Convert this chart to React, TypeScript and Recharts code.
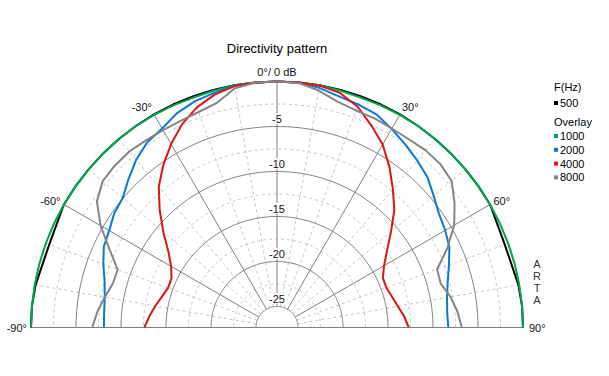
import { PolarAngleAxis, PolarGrid, PolarRadiusAxis, Radar, RadarChart } from "recharts";

// angle from front axis, degrees
const ANGLES = [
  -90, -85, -80, -75, -70, -65, -60, -55, -50, -45, -40, -35, -30, -25, -20, -15, -10, -5, 0,
  5, 10, 15, 20, 25, 30, 35, 40, 45, 50, 55, 60, 65, 70, 75, 80, 85, 90,
];

// level in dB per frequency
const F500 = [
  0, 0, -0.1, -0.35, -0.4, -0.3, 0, 0, 0, 0, 0, 0, 0, 0, 0, 0, 0, 0, 0,
  0, 0, 0, 0, 0, 0, 0, 0, 0, 0, 0, 0, -0.3, -0.4, -0.35, -0.1, 0, 0,
];
const F1000 = [
  0, 0, 0, 0, 0, 0, 0, 0, 0, 0, 0, 0, -0.05, -0.1, -0.15, -0.1, 0, 0, 0,
  0, 0, -0.1, -0.15, -0.1, -0.05, 0, 0, 0, 0, 0, 0, 0, 0, 0, 0, 0, 0,
];
const F2000 = [
  -8.1, -8.05, -7.9, -7.5, -6.8, -6.1, -5.8, -5.25, -4.95, -4.0, -3.0, -2.2, -1.8, -1.05, -0.6, -0.35, -0.05, 0, 0,
  0, -0.3, -0.75, -0.95, -1.2, -1.85, -2.5, -3.1, -3.7, -4.6, -5.35, -5.75, -6.2, -7.0, -7.7, -8.15, -8.35, -8.3,
];
const F4000 = [
  -12.6, -13.1, -13.6, -14.1, -14.45, -14.4, -13.75, -12.6, -10.85, -8.9, -6.9, -5.3, -3.8, -2.4, -1.3, -0.55, -0.1, 0, 0,
  0, -0.05, -0.35, -1.2, -2.55, -3.85, -5.55, -7.3, -8.9, -10.8, -12.4, -13.6, -14.35, -14.4, -14.1, -13.7, -13.15, -12.7,
];
const F8000 = [
  -6.8, -7.3, -7.9, -8.45, -8.5, -6.8, -4.7, -2.9, -2.05, -1.87, -1.8, -1.95, -2.0, -2.0, -1.85, -1.5, -0.35, 0, 0,
  -0.05, -0.6, -1.35, -1.67, -1.7, -1.8, -1.8, -1.64, -1.66, -2.0, -3.25, -4.6, -6.45, -8.4, -8.5, -7.75, -7.2, -6.8,
];

const ANGLE_TICKS = [-90, -60, -30, 0, 30, 60, 90];
const MINOR_ANGLES = [-80, -70, -50, -40, -20, -10, 10, 20, 40, 50, 70, 80];
const DB_TICKS = [-25, -20, -15, -10, -5, 0];
const MINOR_DB = [-22.5, -17.5, -12.5, -7.5, -2.5];

const MAIN = [{ key: "f500", name: "500", color: "#000000", values: F500 }];
const OVERLAY = [
  { key: "f1000", name: "1000", color: "#00a651", values: F1000 },
  { key: "f2000", name: "2000", color: "#0a78d7", values: F2000 },
  { key: "f4000", name: "4000", color: "#dc1414", values: F4000 },
  { key: "f8000", name: "8000", color: "#858585", values: F8000 },
];
const SERIES = [...MAIN, ...OVERLAY];

const W = 609;
const H = 376;
const CX = 277;
const CY = 327.5;
const R_OUT = 246;
const R_IN = 21;
const FONT = "'Liberation Sans', Arial, sans-serif";

const data = ANGLES.map((a, i) => {
  const row: Record<string, number> = { angle: a };
  SERIES.forEach((s) => (row[s.key] = s.values[i]));
  return row;
});

// grid helpers: front angle -> recharts angle, dB -> pixel radius
const toPolar = (deg: number) => 90 - deg;
const radiusOf = (db: number) => R_IN + ((db + 25) / 25) * (R_OUT - R_IN);
const ARC = Array.from({ length: 181 }, (_, i) => i);

// open trace through the points recharts computed (the default polygon closes along the baseline)
const openTrace = (props: any) => {
  const pts = (props.points || []).filter((p: any) => Number.isFinite(p.x) && Number.isFinite(p.y));
  const d = pts.map((p: any, i: number) => `${i ? "L" : "M"}${p.x},${p.y}`).join("");
  return (
    <path
      d={d}
      fill="none"
      stroke={props.stroke}
      strokeWidth={props.strokeWidth}
      strokeLinejoin="round"
    />
  );
};

const angleTick = (props: any) => {
  const { x, y, payload } = props;
  const v = payload.value as number;
  const anchor = v < 0 ? "end" : v > 0 ? "start" : "middle";
  const dy: Record<number, number> = { 90: 4, 60: 2, 30: 0, 0: -2 };
  const label = v === 0 ? "0°/ 0 dB" : `${v}°`;
  return (
    <text
      x={x + (v === 90 ? 2 : 0)}
      y={y + (dy[Math.abs(v)] ?? 0)}
      textAnchor={anchor}
      fontSize={11}
      fontFamily={FONT}
      fill="#111"
    >
      {label}
    </text>
  );
};

const dbTick = (props: any) => {
  const { x, y, payload } = props;
  const v = payload.value as number;
  if (v === 0) return <g />;
  const label = String(v);
  const w = label.length * 6 + 2;
  return (
    <g>
      <rect x={x - w / 2} y={y - 13.5} width={w} height={11} fill="#fff" />
      <text x={x} y={y - 4} textAnchor="middle" fontSize={11} fontFamily={FONT} fill="#111">
        {label}
      </text>
    </g>
  );
};

export default function App() {
  return (
    <div style={{ position: "absolute", left: 0, top: 0, width: W, height: H, background: "#fff", fontFamily: FONT }}>
      <svg width={W} height={H} style={{ position: "absolute", left: 0, top: 0 }}>
        <text x={277} y={53} textAnchor="middle" fontSize={13} fill="#000">
          Directivity pattern
        </text>
        <text x={554} y={90.5} fontSize={11} fill="#000">F(Hz)</text>
        {MAIN.map((s, i) => (
          <g key={s.key}>
            <rect x={554} y={101 + i * 14} width={4} height={4} fill={s.color} />
            <text x={560} y={107 + i * 14} fontSize={11} fill="#000">{s.name}</text>
          </g>
        ))}
        <text x={554} y={125.5} fontSize={11} fill="#000">Overlay</text>
        {OVERLAY.map((s, i) => (
          <g key={s.key}>
            <rect x={554} y={134 + i * 13.8} width={4} height={4} fill={s.color} />
            <text x={560} y={140 + i * 13.8} fontSize={11} fill="#000">{s.name}</text>
          </g>
        ))}
        {"ARTA".split("").map((c, i) => (
          <text key={i} x={537} y={268 + i * 12} textAnchor="middle" fontSize={11} fill="#333">
            {c}
          </text>
        ))}
      </svg>
      <div style={{ position: "absolute", left: 0, top: 0 }}>
        <RadarChart
          width={W}
          height={H}
          data={data}
          cx={CX}
          cy={CY}
          innerRadius={R_IN}
          outerRadius={R_OUT}
          startAngle={180}
          endAngle={0}
          margin={{ top: 0, right: 0, bottom: 0, left: 0 }}
        >
          <PolarGrid
            gridType="polygon"
            radialLines={false}
            polarAngles={ARC}
            polarRadius={MINOR_DB.map(radiusOf)}
            stroke="#c4c4c4"
            strokeDasharray="3 3"
            fill="none"
          />
          <PolarGrid
            gridType="polygon"
            polarAngles={MINOR_ANGLES.map(toPolar)}
            polarRadius={[]}
            stroke="#c4c4c4"
            strokeDasharray="3 3"
            fill="none"
          />
          <PolarGrid
            gridType="polygon"
            polarAngles={ANGLE_TICKS.map(toPolar)}
            polarRadius={[]}
            stroke="#808080"
            fill="none"
          />
          <PolarGrid
            gridType="polygon"
            radialLines={false}
            polarAngles={ARC}
            polarRadius={DB_TICKS.map(radiusOf)}
            stroke="#808080"
            fill="none"
          />
          <PolarAngleAxis
            dataKey="angle"
            type="number"
            scale="linear"
            domain={[-90, 90]}
            ticks={ANGLE_TICKS as any}
            tickCount={7}
            axisLine={false}
            tickLine={false}
            tickSize={4}
            tick={angleTick}
          />
          <PolarRadiusAxis
            angle={90}
            type="number"
            domain={[-25, 0]}
            tickCount={6}
            axisLine={false}
            tickLine={false}
            tick={dbTick}
          />
          {SERIES.map((s) => (
            <Radar
              key={s.key}
              dataKey={s.key}
              name={s.name}
              stroke={s.color}
              strokeWidth={2}
              fill="none"
              fillOpacity={0}
              dot={false}
              shape={openTrace}
              isAnimationActive={false}
            />
          ))}
        </RadarChart>
      </div>
    </div>
  );
}
